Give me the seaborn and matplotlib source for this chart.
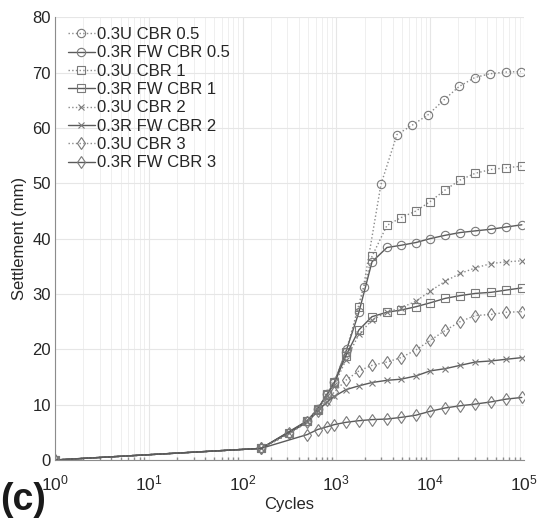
import numpy as np
import pandas as pd
import matplotlib
matplotlib.use("Agg")
import matplotlib.pyplot as plt
import seaborn as sns
from matplotlib.ticker import LogLocator, NullFormatter

# ---- data ----
cycles = [1, 158, 316, 490, 630, 795, 955, 1260, 1740, 2400, 3470, 4900,
          7080, 10000, 14450, 20900, 30200, 44700, 64600, 95000]
cycles_u05 = [1, 158, 316, 490, 630, 795, 955, 1300, 1950, 2990, 4430, 6440,
              9530, 14100, 20400, 29900, 43500, 63800, 93000]

u_cbr05 = [0, 2.1, 4.8, 7.1, 9.2, 11.9, 14.1, 20.0, 31.3, 49.8, 58.8, 60.5,
           62.4, 65.1, 67.5, 69.1, 69.8, 70.1, 70.2]
r_cbr05 = [0, 2.1, None, 7.1, 9.2, 11.9, 14.1, 19.5, 26.7, 35.8, 38.4, 38.8,
           39.3, 40.0, 40.6, 41.1, 41.4, 41.7, 42.1, 42.5]
u_cbr1 = [0, 2.1, 4.8, 7.1, 9.2, 11.9, 14.1, 19.6, 27.6, 36.8, 42.4, 43.8,
          45.0, 46.7, 48.8, 50.6, 51.8, 52.5, 52.8, 53.1]
r_cbr1 = [0, 2.1, None, 7.0, 9.1, 11.7, 13.9, 18.8, 23.5, 25.9, 26.7, 27.1,
          27.7, 28.4, 29.2, 29.7, 30.1, 30.3, 30.7, 31.1]
u_cbr2 = [0, 2.1, 4.8, 7.0, 9.0, 11.5, 13.6, 18.0, 22.7, 25.3, 26.7, 27.5,
          28.7, 30.5, 32.3, 33.7, 34.7, 35.5, 35.8, 36.0]
r_cbr2 = [0, 2.1, None, 6.8, 8.8, 10.5, 11.5, 12.7, 13.4, 14.0, 14.4, 14.6,
          15.2, 16.1, 16.5, 17.1, 17.7, 17.9, 18.2, 18.5]
u_cbr3 = [0, 2.1, 4.8, 6.8, 8.8, 10.8, 12.3, 14.4, 16.1, 17.1, 17.7, 18.5,
          19.9, 21.6, 23.4, 25.0, 26.1, 26.3, 26.7, 26.8]
r_cbr3 = [0, 2.1, None, 4.6, 5.5, 6.0, 6.4, 6.8, 7.1, 7.3, 7.4, 7.7,
          8.1, 8.8, 9.4, 9.8, 10.1, 10.5, 11.0, 11.3]

labels = ["0.3U CBR 0.5", "0.3R FW CBR 0.5", "0.3U CBR 1", "0.3R FW CBR 1",
          "0.3U CBR 2", "0.3R FW CBR 2", "0.3U CBR 3", "0.3R FW CBR 3"]
series = [u_cbr05, r_cbr05, u_cbr1, r_cbr1, u_cbr2, r_cbr2, u_cbr3, r_cbr3]
xs = [cycles_u05] + [cycles] * 7
markers = ["o", "o", "s", "s", "x", "x", "d", "d"]
y_ticks = list(range(0, 90, 10))
x_ticks = [1, 10, 100, 1000, 10000, 100000]

# ---- style ----
sns.set_theme(style="white")
plt.rcParams["font.family"] = ["Liberation Sans", "DejaVu Sans"]
plt.rcParams["mathtext.default"] = "regular"

fig = plt.figure(figsize=(5.39, 5.19), dpi=100)
ax = fig.add_axes([0.102, 0.1137, 0.870, 0.853])

for x, y, lab, mk in zip(xs, series, labels, markers):
    df = pd.DataFrame({"Cycles": x, "Settlement": y}).dropna()
    is_u = "U " in lab
    ms = {"o": 6, "s": 5.5, "x": 5, "d": 6.5}[mk]
    sns.lineplot(data=df, x="Cycles", y="Settlement", ax=ax, label=lab,
                 color="#8a8a8a" if is_u else "#5a5a5a",
                 linestyle=":" if is_u else "-", linewidth=1.0,
                 marker=mk, markersize=ms, markerfacecolor="none",
                 markeredgecolor="#7a7a7a", markeredgewidth=0.8,
                 sort=False, estimator=None, errorbar=None)

ax.set_xscale("log")
ax.set_xlim(1, 1e5)
ax.set_ylim(0, 80)
ax.set_xticks(x_ticks)
ax.xaxis.set_minor_locator(LogLocator(base=10, subs=np.arange(2, 10), numticks=20))
ax.xaxis.set_minor_formatter(NullFormatter())
ax.set_yticks(y_ticks)

ax.grid(True, which="major", color="#e6e6e6", linewidth=0.8)
ax.grid(True, which="minor", axis="x", color="#ececec", linewidth=0.6)
ax.set_axisbelow(True)

for s in ["top", "right"]:
    ax.spines[s].set_visible(False)
for s in ["left", "bottom"]:
    ax.spines[s].set_color("#8c8c8c")
    ax.spines[s].set_linewidth(0.8)

ax.tick_params(axis="both", which="major", direction="in", length=4,
               color="#8c8c8c", labelsize=12, labelcolor="#262626", pad=3)
ax.tick_params(axis="x", which="major", pad=9.5, labelsize=12.5)
ax.tick_params(axis="x", which="minor", direction="in", length=2,
               color="#8c8c8c", bottom=True)

ax.set_xlabel("Cycles", fontsize=12, color="#262626", labelpad=3)
ax.set_ylabel("Settlement (mm)", fontsize=12, color="#262626", labelpad=4)

leg = ax.legend(loc="upper left", bbox_to_anchor=(0.028, 0.978), frameon=False,
                fontsize=12, labelspacing=0.2, handlelength=1.6,
                handletextpad=0.15, borderpad=0, borderaxespad=0)
for t in leg.get_texts():
    t.set_color("#262626")

fig.text(0.0, 0.002, "(c)", fontsize=27, fontweight="bold", color="#1a1a1a",
         ha="left", va="bottom")

fig.savefig("out.png", dpi=100)
